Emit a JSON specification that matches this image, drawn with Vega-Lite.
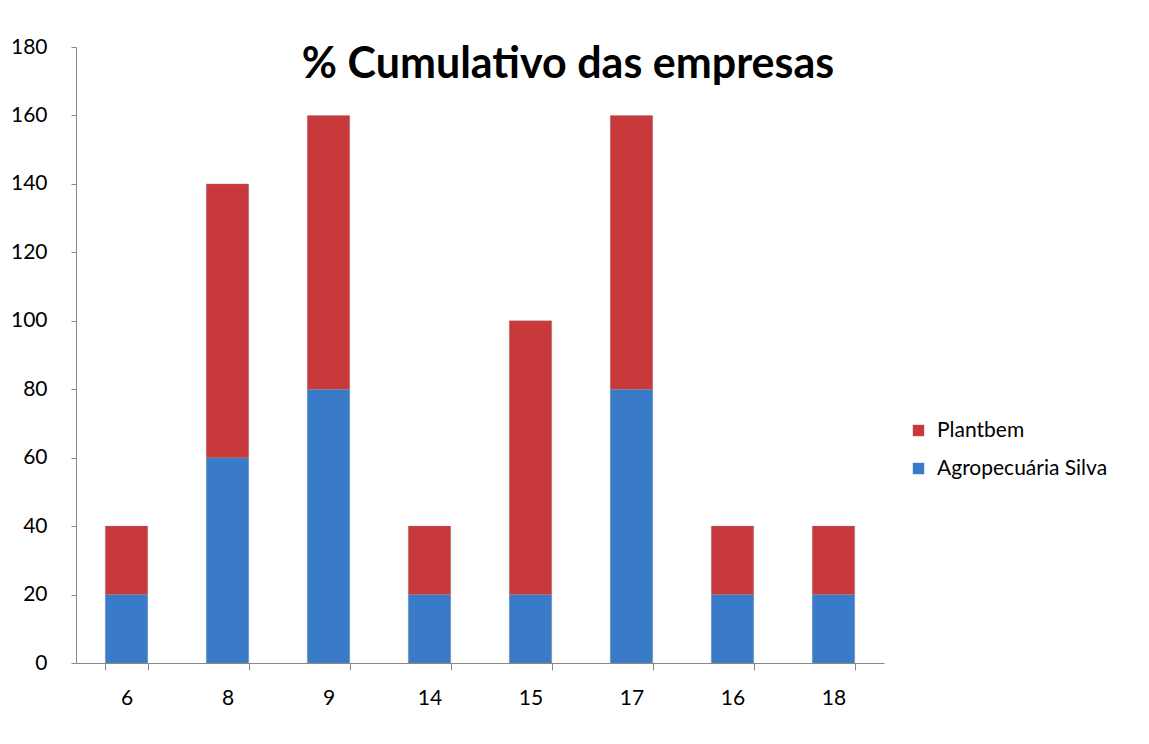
{
  "$schema": "https://vega.github.io/schema/vega-lite/v6.json",
  "width": 808,
  "height": 616,
  "autosize": {"type": "none"},
  "padding": {"left": 76, "top": 47, "right": 265, "bottom": 81},
  "background": "white",
  "title": {
    "text": "% Cumulativo das empresas",
    "anchor": "middle",
    "frame": "group",
    "dx": 88,
    "offset": -51,
    "font": "Lato",
    "fontSize": 43,
    "fontWeight": "bold",
    "color": "#000000"
  },
  "data": {
    "values": [
      {"cat": "6", "series": "Agropecuária Silva", "value": 20},
      {"cat": "6", "series": "Plantbem", "value": 20},
      {"cat": "8", "series": "Agropecuária Silva", "value": 60},
      {"cat": "8", "series": "Plantbem", "value": 80},
      {"cat": "9", "series": "Agropecuária Silva", "value": 80},
      {"cat": "9", "series": "Plantbem", "value": 80},
      {"cat": "14", "series": "Agropecuária Silva", "value": 20},
      {"cat": "14", "series": "Plantbem", "value": 20},
      {"cat": "15", "series": "Agropecuária Silva", "value": 20},
      {"cat": "15", "series": "Plantbem", "value": 80},
      {"cat": "17", "series": "Agropecuária Silva", "value": 80},
      {"cat": "17", "series": "Plantbem", "value": 80},
      {"cat": "16", "series": "Agropecuária Silva", "value": 20},
      {"cat": "16", "series": "Plantbem", "value": 20},
      {"cat": "18", "series": "Agropecuária Silva", "value": 20},
      {"cat": "18", "series": "Plantbem", "value": 20}
    ]
  },
  "mark": {"type": "bar", "stroke": "#8a8a8a", "strokeOpacity": 0.35, "strokeWidth": 1},
  "encoding": {
    "x": {
      "field": "cat",
      "type": "nominal",
      "sort": ["6", "8", "9", "14", "15", "17", "16", "18"],
      "scale": {"paddingInner": 0.58, "paddingOuter": 0.29},
      "axis": {
        "title": null,
        "labelAngle": 0,
        "labelFont": "Lato",
        "labelFontSize": 21,
        "labelColor": "#000000",
        "labelPadding": 17,
        "tickBand": "extent",
        "tickSize": 7,
        "tickColor": "#888888",
        "domainColor": "#888888",
        "grid": false
      }
    },
    "y": {
      "field": "value",
      "type": "quantitative",
      "aggregate": "sum",
      "stack": "zero",
      "scale": {"domain": [0, 180], "nice": false},
      "axis": {
        "title": null,
        "values": [0, 20, 40, 60, 80, 100, 120, 140, 160, 180],
        "labelFont": "Lato",
        "labelFontSize": 21,
        "labelColor": "#000000",
        "labelPadding": 24,
        "tickSize": 5,
        "tickColor": "#888888",
        "domainColor": "#888888",
        "grid": false
      }
    },
    "order": {"field": "series", "sort": "ascending"},
    "color": {
      "field": "series",
      "type": "nominal",
      "scale": {"domain": ["Plantbem", "Agropecuária Silva"], "range": ["#c8393b", "#3a7bc9"]},
      "legend": {
        "title": null,
        "orient": "none",
        "legendX": 832,
        "legendY": 373,
        "symbolType": "square",
        "symbolSize": 130,
        "symbolStrokeWidth": 0,
        "labelFont": "Lato",
        "labelFontSize": 21,
        "labelColor": "#000000",
        "labelOffset": 8,
        "labelLimit": 400,
        "rowPadding": 16
      }
    }
  },
  "config": {"view": {"stroke": null}}
}
